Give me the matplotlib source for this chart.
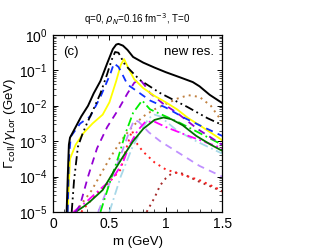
import numpy as np
import matplotlib
matplotlib.use("Agg")
import matplotlib.pyplot as plt
from matplotlib.ticker import MultipleLocator, LogLocator, NullFormatter

plt.rcParams["font.family"] = ["Liberation Sans", "DejaVu Sans"]

# curves: mass (GeV) and log10 of Gamma_coll/gamma_Lor (GeV)
total_m = [0.12, 0.13, 0.14, 0.15, 0.2, 0.25, 0.31, 0.36, 0.42, 0.48, 0.53, 0.56, 0.58, 0.62, 0.66,
           0.71, 0.8, 0.9, 1.0, 1.13, 1.24, 1.3, 1.39, 1.5]
total_lg = [-5.0, -4.0, -3.1, -2.9, -2.6, -2.3, -2.0, -1.65, -1.3, -0.8, -0.4, -0.27, -0.25, -0.3,
            -0.42, -0.62, -0.78, -0.92, -1.05, -1.2, -1.33, -1.45, -1.69, -1.92]

dd_m = [0.165, 0.186, 0.22, 0.26, 0.3, 0.355, 0.42, 0.48, 0.52, 0.55, 0.58, 0.64, 0.77, 0.95, 1.19,
        1.37, 1.5]
dd_lg = [-5.0, -4.1, -3.16, -2.8, -2.5, -2.12, -1.65, -1.1, -0.7, -0.48, -0.5, -0.85, -1.27, -1.64,
         -2.03, -2.35, -2.54]

blue_m = [0.13, 0.14, 0.157, 0.24, 0.33, 0.42, 0.51, 0.54, 0.58, 0.61, 0.66, 0.75, 0.86, 1.0, 1.17,
          1.3, 1.5]
blue_lg = [-5.0, -3.5, -2.87, -2.5, -2.3, -1.75, -1.08, -0.8, -0.9, -1.08, -1.4, -1.6, -1.85, -2.05,
           -2.35, -2.55, -2.85]

yel_m = [0.13, 0.14, 0.15, 0.2, 0.27, 0.35, 0.44, 0.5, 0.56, 0.6, 0.63, 0.67, 0.72, 0.8, 0.9, 1.0,
         1.1, 1.2, 1.3, 1.4, 1.5]
yel_lg = [-5.0, -4.2, -3.5, -3.1, -2.77, -2.5, -2.25, -1.9, -1.3, -0.85, -0.68, -0.95, -1.25, -1.5,
          -1.72, -1.9, -2.1, -2.35, -2.55, -2.76, -2.97]

vio_m = [0.2, 0.24, 0.31, 0.39, 0.48, 0.58, 0.66, 0.72, 0.77, 0.82, 0.86, 0.98, 1.1, 1.28, 1.5]
vio_lg = [-5.0, -4.8, -4.0, -3.2, -2.6, -2.1, -1.65, -1.35, -1.25, -1.45, -1.64, -1.95, -2.2,
          -2.65, -3.1]

grn_m = [0.42, 0.51, 0.58, 0.64, 0.71, 0.79, 0.86, 1.0, 1.13, 1.3, 1.5]
grn_lg = [-5.0, -4.1, -3.44, -2.8, -2.2, -1.85, -2.1, -2.3, -2.49, -2.77, -3.1]

mag_m = [0.18, 0.3, 0.42, 0.53, 0.62, 0.68, 0.75, 0.82, 0.9, 1.0, 1.2, 1.5]
mag_lg = [-5.0, -4.7, -4.35, -4.05, -3.6, -3.1, -2.7, -2.45, -2.45, -2.6, -2.85, -3.2]

lblue_m = [0.5, 0.6, 0.7, 0.78, 0.85, 0.9, 0.95, 1.1, 1.27, 1.5]
lblue_lg = [-5.0, -4.0, -3.2, -2.7, -2.35, -2.25, -2.3, -2.7, -3.0, -3.35]

lav_m = [0.4, 0.5, 0.6, 0.68, 0.72, 0.76, 0.85, 0.95, 1.1, 1.3, 1.5]
lav_lg = [-5.0, -4.2, -3.4, -2.7, -2.4, -2.45, -2.75, -3.0, -3.3, -3.7, -4.0]

dgrn_m = [0.2, 0.27, 0.33, 0.44, 0.53, 0.62, 0.71, 0.8, 0.9, 0.98, 1.05, 1.15, 1.27, 1.4, 1.5]
dgrn_lg = [-5.0, -4.85, -4.7, -4.38, -3.9, -3.44, -3.0, -2.65, -2.4, -2.33, -2.38, -2.55, -2.85,
           -3.1, -3.27]

tan_m = [0.2, 0.34, 0.5, 0.6, 0.7, 0.8, 0.9, 1.0, 1.1, 1.2, 1.3, 1.4, 1.5]
tan_lg = [-5.0, -4.4, -3.5, -3.0, -2.6, -2.3, -2.1, -1.95, -1.8, -1.7, -1.75, -2.0, -2.45]

red_m = [0.25, 0.3, 0.4, 0.5, 0.6, 0.65, 0.7, 0.75, 0.8, 0.9, 1.0, 1.1, 1.2, 1.3, 1.4, 1.5]
red_lg = [-5.0, -4.8, -4.45, -4.15, -3.8, -3.2, -2.7, -3.1, -3.3, -3.6, -3.8, -3.9, -4.0, -4.1,
          -4.25, -4.4]

dred_m = [0.83, 0.9, 0.95, 1.0, 1.05, 1.1, 1.15, 1.2, 1.3, 1.4, 1.5]
dred_lg = [-5.0, -4.6, -4.25, -4.05, -3.92, -3.88, -3.92, -4.0, -4.15, -4.28, -4.42]

x_ticks = [0, 0.5, 1, 1.5]
x_ticklabels = ["0", "0.5", "1", "1.5"]


def draw(ax, m, lg, **kw):
    ax.plot(m, 10.0 ** np.array(lg), **kw)


fig = plt.figure(figsize=(3.2, 2.52), dpi=100)
ax = fig.add_axes([0.166, 0.159, 0.528, 0.702])

# draw the thin ones first, the total last so it sits on top
draw(ax, dred_m, dred_lg, color="#a52a2a", ls=(0, (1, 2.2)), lw=1.4)
draw(ax, red_m, red_lg, color="#ff2020", ls=(0, (1, 2.2)), lw=1.4)
draw(ax, tan_m, tan_lg, color="#c08040", ls=(0, (1, 2.2)), lw=1.4)
draw(ax, lav_m, lav_lg, color="#c090ff", ls=(0, (4, 3)), lw=1.3)
draw(ax, lblue_m, lblue_lg, color="#a8d8e8", ls=(0, (5, 2, 1, 2)), lw=1.3)
draw(ax, mag_m, mag_lg, color="#ff00ff", ls=(0, (5, 2, 1, 2)), lw=1.3)
draw(ax, grn_m, grn_lg, color="#00ee00", ls=(0, (5, 2, 1, 2)), lw=1.3)
draw(ax, dgrn_m, dgrn_lg, color="#007000", ls="-", lw=1.3)
draw(ax, vio_m, vio_lg, color="#9400d3", ls=(0, (4, 3)), lw=1.3)
draw(ax, yel_m, yel_lg, color="#ffff00", ls="-", lw=1.3)
draw(ax, blue_m, blue_lg, color="#1030ff", ls=(0, (4, 3)), lw=1.3)
draw(ax, dd_m, dd_lg, color="black", ls=(0, (5, 2, 1, 2, 1, 2)), lw=1.3)
draw(ax, total_m, total_lg, color="black", ls="-", lw=1.4)

ax.set_yscale("log")
ax.set_xlim(0, 1.5)
ax.set_ylim(1e-5, 1)
ax.set_xticks(x_ticks)
ax.set_xticklabels(x_ticklabels)
ax.xaxis.set_minor_locator(MultipleLocator(0.1))
ax.yaxis.set_major_locator(LogLocator(base=10, numticks=10))
ax.yaxis.set_minor_locator(LogLocator(base=10, subs=np.arange(2, 10), numticks=10))
ax.yaxis.set_minor_formatter(NullFormatter())
ax.tick_params(which="both", direction="in", top=True, right=True, labelsize=10)
ax.tick_params(which="major", length=3.5, width=0.7, pad=4)
ax.tick_params(which="minor", length=2, width=0.5)
for s in ax.spines.values():
    s.set_linewidth(0.9)

ax.set_xlabel("m (GeV)", fontsize=9.5, labelpad=3)
ax.set_ylabel(r"$\Gamma_{\rm coll}/\gamma_{\rm Lor}$ (GeV)", fontsize=9.5, labelpad=1)
ax.set_title(r"q=0, $\rho_N$=0.16 fm$^{-3}$, T=0", fontsize=7, pad=9)
ax.text(0.06, 0.94, "(c)", transform=ax.transAxes, fontsize=9.5, va="top")
ax.text(0.95, 0.94, "new res.", transform=ax.transAxes, fontsize=9.5, va="top", ha="right")

plt.savefig("out.png", dpi=100)
